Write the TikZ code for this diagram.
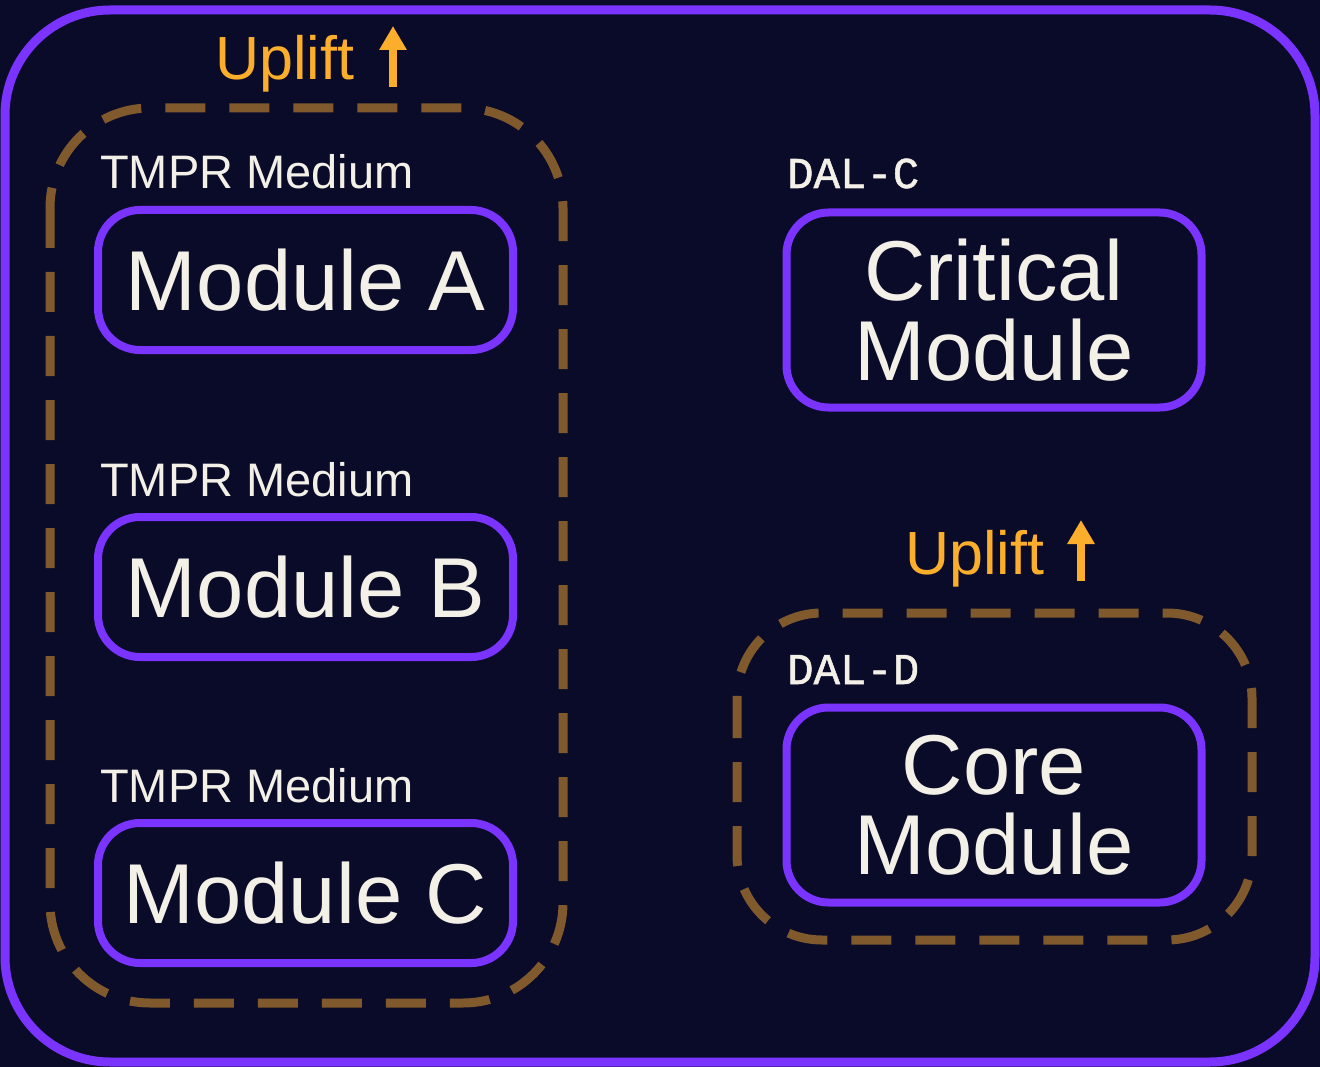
\documentclass[tikz,border=0pt]{standalone}
\usepackage{fontspec}
\setmainfont{Liberation Sans}
\newfontfamily\monofont[FakeBold=1.2]{Liberation Mono}
\usetikzlibrary{arrows.meta, positioning, calc}
\definecolor{CNight}{HTML}{0A0B29}
\definecolor{CViolet}{HTML}{7B33FF}
\definecolor{CBronze}{HTML}{805A2C}
\definecolor{CAmber}{HTML}{FBAD2C}
\definecolor{CIvory}{HTML}{F3F0E8}

\begin{document}
\begin{tikzpicture}[x=1pt, y=-1pt,
    modbox/.style={draw=CViolet, line width=8pt, rounded corners=42pt, text=CIvory,
        minimum width=415pt, minimum height=140pt, align=center,
        font=\fontsize{85}{80}\selectfont},
    tmprlbl/.style={text=CIvory, anchor=base west, inner sep=0pt, font=\fontsize{47}{50}\selectfont},
    dallbl/.style={text=CIvory, anchor=base west, inner sep=0pt, font=\monofont\fontsize{44}{50}\selectfont},
    upliftlbl/.style={text=CAmber, anchor=base west, inner sep=0pt, font=\fontsize{61}{60}\selectfont},
    uparrow/.style={draw=CAmber, line width=8pt, -{Triangle[width=26pt, length=24pt]}},
    groupline/.style={draw=CBronze, line width=9pt, dash pattern=on 40pt off 24pt}]

    % Background and frame
    \fill[CNight] (0,0) rectangle (1320,1067);
    \draw[CViolet, line width=9pt, rounded corners=105pt] (5,10) rectangle (1315,1062);

    % Left group (three TMPR modules)
    \draw[groupline, rounded corners=100pt] (50,108) rectangle (563,1003);
    \node[upliftlbl] (upL) at (215,80) {Uplift};
    \coordinate (upLfoot) at (393,87);
    \coordinate (upLtip) at (393,26);
    \draw[uparrow] (upLfoot) -- (upLtip);

    \node[modbox] (modA) at (305.5,280) {Module A};
    \node[modbox] (modB) at (305.5,587) {Module B};
    \node[modbox] (modC) at (305.5,893) {Module C};
    \node[tmprlbl] (tmprA) at (100,189) {TMPR Medium};
    \node[tmprlbl] (tmprB) at (100,496) {TMPR Medium};
    \node[tmprlbl] (tmprC) at (100,802) {TMPR Medium};

    % Right side
    \node[dallbl] (dalC) at (787,188) {DAL-C};
    \node[modbox, minimum height=195pt] (crit) at (994,310) {Critical\\Module};

    \draw[groupline, rounded corners=85pt] (737,613) rectangle (1252,940);
    \node[upliftlbl] (upR) at (905,574) {Uplift};
    \coordinate (upRfoot) at (1081,581);
    \coordinate (upRtip) at (1081,520);
    \draw[uparrow] (upRfoot) -- (upRtip);

    \node[dallbl] (dalD) at (787,684) {DAL-D};
    \node[modbox, minimum height=195pt] (core) at (994,805) {Core\\Module};
\end{tikzpicture}
\end{document}
